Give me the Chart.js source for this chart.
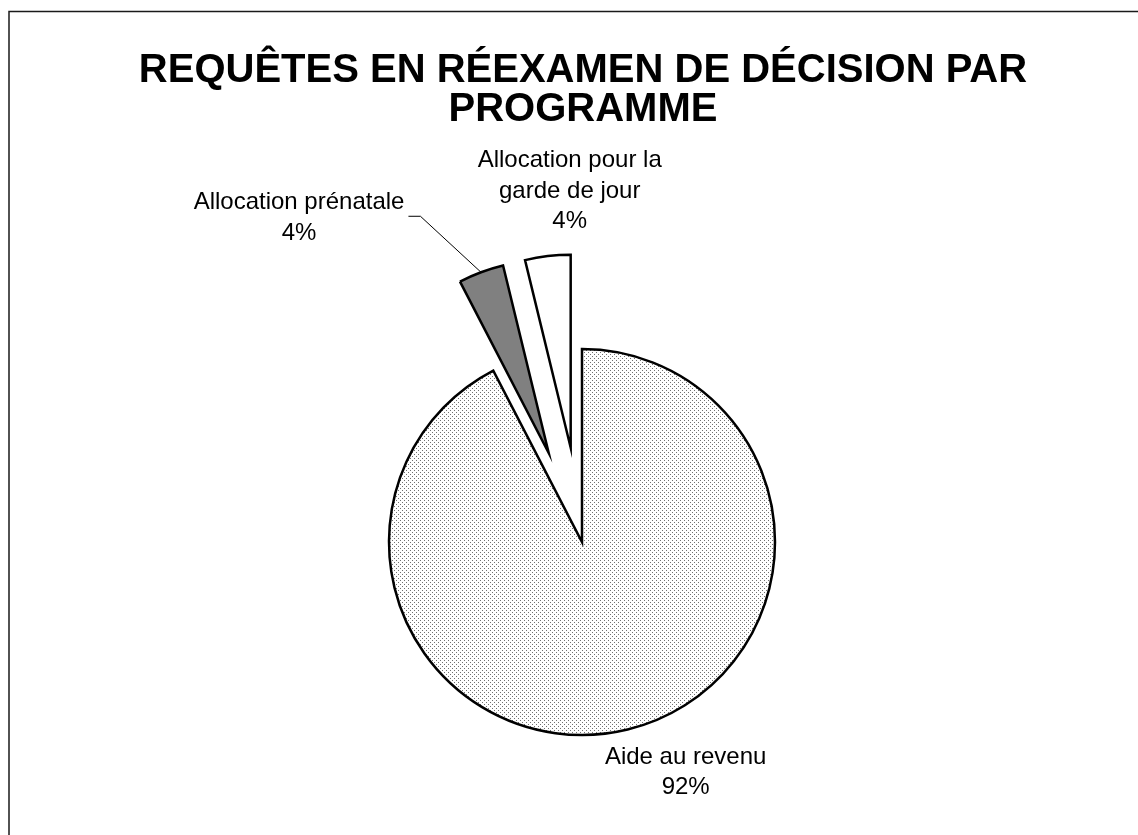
<!DOCTYPE html>
<html lang="fr">
<head>
<meta charset="utf-8">
<title>Requêtes en réexamen de décision par programme</title>
<script src="https://cdn.jsdelivr.net/npm/chart.js@4/dist/chart.umd.min.js"></script>
<style>
    html, body { margin: 0; padding: 0; background: #fff; }
    canvas { display: block; }
</style>
</head>
<body>
<canvas id="graphiqueProgrammes" width="1138" height="835"></canvas>
<script>
// données
const titre = ['REQUÊTES EN RÉEXAMEN DE DÉCISION PAR', 'PROGRAMME']
const programmes = ['Aide au revenu', 'Allocation prénatale', 'Allocation pour la\ngarde de jour']
const valeurs = [92.4, 3.8, 3.8]

// apparence
const couleurs = ['motif', '#808080', '#ffffff']
const eclatement = [0, 95, 95]
const decalagesEtiquettes = [[58, 34], [-182, -63], [22, -89]]
const police = '"Liberation Sans", Arial, sans-serif'

function creerMotif() {
    const tuile = document.createElement('canvas')
    tuile.width = 4
    tuile.height = 4
    const c = tuile.getContext('2d')
    c.fillStyle = '#ffffff'
    c.fillRect(0, 0, 4, 4)
    c.fillStyle = '#707070'
    c.fillRect(0, 0, 1, 1)
    c.fillRect(2, 2, 1, 1)
    return c.createPattern(tuile, 'repeat')
}

const fonds = couleurs.map(c => c === 'motif' ? creerMotif() : c)

// écarte les parts détachées sans agrandir leur rayon
const eclater = {
    id: 'eclater',
    afterDatasetsUpdate(chart) {
        chart.getDatasetMeta(0).data.forEach((arc, i) => {
            const d = eclatement[i]
            if (!d) return
            const milieu = (arc.startAngle + arc.endAngle) / 2
            arc.x += Math.cos(milieu) * d
            arc.y += Math.sin(milieu) * d
        })
    }
}

const cadre = {
    id: 'cadre',
    beforeDraw(chart) {
        const ctx = chart.ctx
        ctx.save()
        ctx.fillStyle = '#fff'
        ctx.fillRect(0, 0, chart.width, chart.height)
        ctx.strokeStyle = '#1a1a1a'
        ctx.lineWidth = 1.5
        ctx.beginPath()
        ctx.moveTo(9, chart.height)
        ctx.lineTo(9, 11.5)
        ctx.lineTo(chart.width, 11.5)
        ctx.stroke()
        ctx.restore()
    },
    afterDraw(chart) {
        const ctx = chart.ctx
        ctx.save()
        ctx.fillStyle = '#000'
        ctx.textAlign = 'center'
        ctx.textBaseline = 'alphabetic'
        ctx.font = 'bold 40px ' + police
        titre.forEach((ligne, k) => ctx.fillText(ligne, 583, 82 + k * 39))
        ctx.restore()
    }
}

const etiquettes = {
    id: 'etiquettes',
    afterDatasetsDraw(chart) {
        const ctx = chart.ctx
        const meta = chart.getDatasetMeta(0)
        const total = valeurs.reduce((a, b) => a + b, 0)
        ctx.save()
        ctx.font = '24px ' + police
        ctx.fillStyle = '#000'
        ctx.textAlign = 'center'
        ctx.textBaseline = 'alphabetic'
        meta.data.forEach((arc, i) => {
            const milieu = (arc.startAngle + arc.endAngle) / 2
            const ax = arc.x + Math.cos(milieu) * arc.outerRadius
            const ay = arc.y + Math.sin(milieu) * arc.outerRadius

            const lignes = programmes[i].split('\n')
            lignes.push(Math.round(valeurs[i] / total * 100) + '%')
            const cx = ax + decalagesEtiquettes[i][0]
            const by = ay + decalagesEtiquettes[i][1]
            lignes.forEach((l, k) => ctx.fillText(l, cx, by + k * 30.5))

            // trait de rappel pour l'étiquette éloignée
            if (Math.abs(decalagesEtiquettes[i][0]) > 100) {
                const largeur = Math.max(...lignes.map(l => ctx.measureText(l).width))
                const droite = cx + largeur / 2
                ctx.strokeStyle = '#000'
                ctx.lineWidth = 1
                ctx.beginPath()
                ctx.moveTo(droite + 4, by + 7)
                ctx.lineTo(droite + 16, by + 7)
                ctx.lineTo(ax, ay)
                ctx.stroke()
            }
        })
        ctx.restore()
    }
}

new Chart(document.getElementById('graphiqueProgrammes'), {
    type: 'pie',
    data: {
        labels: programmes,
        datasets: [{
            data: valeurs,
            backgroundColor: fonds,
            borderColor: '#000',
            borderWidth: 2.5,
            borderJoinStyle: 'miter',
            clip: false
        }]
    },
    options: {
        responsive: false,
        animation: false,
        devicePixelRatio: 1,
        radius: 193,
        layout: {
            padding: { left: 26, right: 0, top: 249, bottom: 0 }
        },
        plugins: {
            legend: { display: false },
            tooltip: { enabled: false },
            title: { display: false }
        }
    },
    plugins: [eclater, cadre, etiquettes]
})
</script>
</body>
</html>
